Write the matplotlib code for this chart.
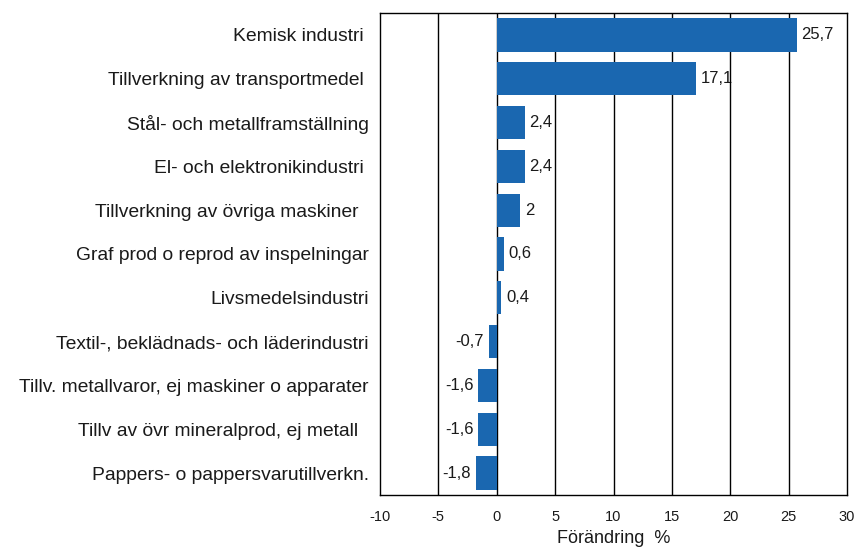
import matplotlib.pyplot as plt

# ------------------------------------------------------------
# Data
# ------------------------------------------------------------
categories = [
    "Kemisk industri ",
    "Tillverkning av transportmedel ",
    "Stål- och metallframställning",
    "El- och elektronikindustri ",
    "Tillverkning av övriga maskiner  ",
    "Graf prod o reprod av inspelningar",
    "Livsmedelsindustri",
    "Textil-, beklädnads- och läderindustri",
    "Tillv. metallvaror, ej maskiner o apparater",
    "Tillv av övr mineralprod, ej metall  ",
    "Pappers- o pappersvarutillverkn.",
]
values = [25.7, 17.1, 2.4, 2.4, 2, 0.6, 0.4, -0.7, -1.6, -1.6, -1.8]
value_labels = ["25,7", "17,1", "2,4", "2,4", "2", "0,6", "0,4",
                "-0,7", "-1,6", "-1,6", "-1,8"]
xticks = [-10, -5, 0, 5, 10, 15, 20, 25, 30]

bar_color = "#1a67b0"
text_color = "#1a1a1a"

plt.rcParams["font.family"] = ["Liberation Sans", "DejaVu Sans"]

fig = plt.figure(figsize=(8.56, 5.52), dpi=100)
ax = fig.add_axes([380 / 856, 1 - 495 / 552, 467 / 856, 482 / 552])

y = list(range(len(categories)))

# vertical grid lines sit above the value labels but below the bars
for xt in xticks[1:-1]:
    ax.axvline(xt, color="black", linewidth=1.0, zorder=2)

ax.barh(y, values, height=0.76, color=bar_color, zorder=3)

for yi, v, lab in zip(y, values, value_labels):
    if v >= 0:
        ax.text(v + 0.4, yi, lab, ha="left", va="center", fontsize=12,
                color=text_color, zorder=1)
    else:
        ax.text(v - 0.4, yi, lab, ha="right", va="center", fontsize=12,
                color=text_color, zorder=1)

ax.set_xlim(-10, 30)
ax.set_ylim(len(categories) - 0.5, -0.5)
ax.set_xticks(xticks)
ax.set_xticklabels([str(t) for t in xticks], fontsize=10.5, color=text_color)
ax.set_yticks(y)
ax.set_yticklabels(categories, fontsize=13.9, color=text_color)
ax.tick_params(axis="both", length=0)
ax.tick_params(axis="x", pad=11)
ax.tick_params(axis="y", pad=8)
ax.set_xlabel("Förändring  %", fontsize=13, color=text_color, labelpad=4)

for sp in ax.spines.values():
    sp.set_color("black")
    sp.set_linewidth(1.0)

fig.savefig("out.png", dpi=100)
